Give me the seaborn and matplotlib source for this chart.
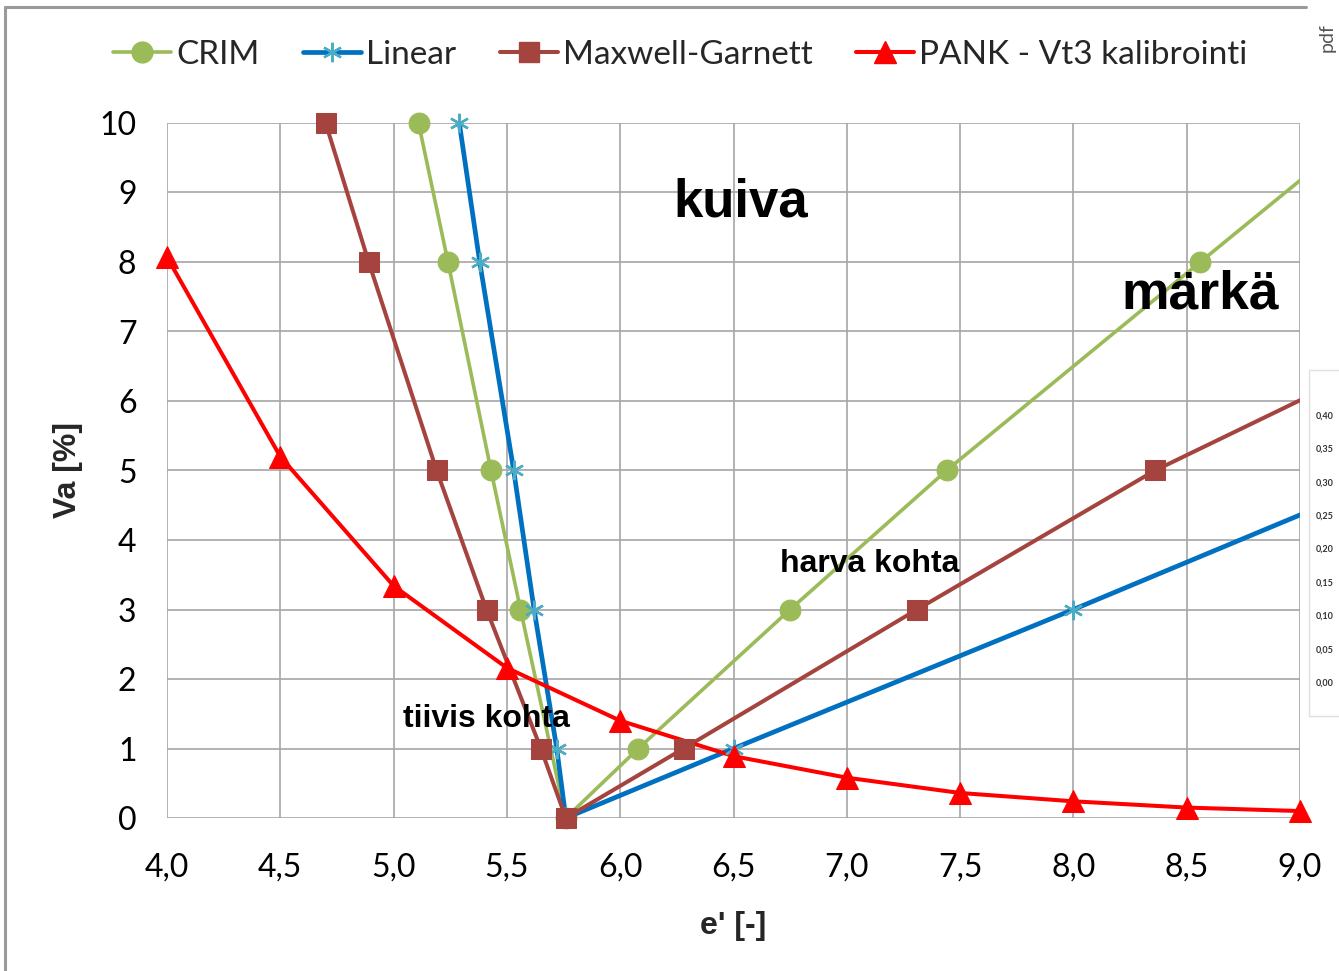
import matplotlib
matplotlib.use("Agg")
import matplotlib.pyplot as plt
import seaborn as sns
import pandas as pd
from matplotlib.lines import Line2D
from matplotlib.patches import Rectangle

# ---- data ----
crim_x = [5.11, 5.24, 5.43, 5.56, 5.76, 6.08, 6.75, 7.44, 8.56, 9.31]
crim_y = [10, 8, 5, 3, 0, 1, 3, 5, 8, 10]

linear_x = [5.29, 5.38, 5.53, 5.62, 5.72, 5.76, 6.50, 8.00, 9.47]
linear_y = [10, 8, 5, 3, 1, 0, 1, 3, 5]

mg_x = [4.70, 4.89, 5.19, 5.41, 5.65, 5.76, 6.28, 7.31, 8.36, 10.26]
mg_y = [10, 8, 5, 3, 1, 0, 1, 3, 5, 8]

pank_x = [4.0, 4.5, 5.0, 5.5, 6.0, 6.5, 7.0, 7.5, 8.0, 8.5, 9.0]
pank_y = [8.07, 5.2, 3.34, 2.16, 1.40, 0.89, 0.58, 0.36, 0.24, 0.15, 0.10]

x_ticks = [4.0, 4.5, 5.0, 5.5, 6.0, 6.5, 7.0, 7.5, 8.0, 8.5, 9.0]
x_ticklabels = ["4,0", "4,5", "5,0", "5,5", "6,0", "6,5", "7,0", "7,5", "8,0", "8,5", "9,0"]
y_ticks = list(range(0, 11))

inset_labels = ["0,40", "0,35", "0,30", "0,25", "0,20", "0,15", "0,10", "0,05", "0,00"]

XMIN, XMAX, YMIN, YMAX = 4.0, 9.0, 0, 10

# ---- styling ----
sns.set_theme(style="white")
plt.rcParams["font.family"] = ["Lato", "DejaVu Sans"]

W, H = 1339, 971
fig = plt.figure(figsize=(W / 100, H / 100), dpi=100)
ax = fig.add_axes([167 / W, 1 - 818 / H, (1300 - 167) / W, (818 - 123) / H])

green = "#9BBB59"
blue = "#0070C0"
teal = "#4BACC6"
brown = "#A5443F"
red = "#FF0000"

series = [
    ("CRIM", crim_x, crim_y, dict(color=green, linewidth=2.6),
     dict(marker="o", markersize=15, markerfacecolor=green, markeredgecolor=green)),
    ("Linear", linear_x, linear_y, dict(color=blue, linewidth=3.4),
     dict(marker=(6, 2, 0), markersize=14, markerfacecolor=teal,
          markeredgecolor=teal, markeredgewidth=1.7)),
    ("Maxwell-Garnett", mg_x, mg_y, dict(color=brown, linewidth=2.9),
     dict(marker="s", markersize=14.5, markerfacecolor=brown, markeredgecolor=brown)),
    ("PANK - Vt3 kalibrointi", pank_x, pank_y, dict(color=red, linewidth=2.9),
     dict(marker="^", markersize=16.5, markerfacecolor=red, markeredgecolor=red)),
]

for name, xs, ys, lst, mst in series:
    df = pd.DataFrame({"x": xs, "y": ys})
    sns.lineplot(data=df, x="x", y="y", sort=False, estimator=None, ax=ax,
                 legend=False, **lst)
    inside = df[(df.x >= XMIN) & (df.x <= XMAX) & (df.y >= YMIN) & (df.y <= YMAX)]
    sns.lineplot(data=inside, x="x", y="y", sort=False, estimator=None, ax=ax,
                 legend=False, linestyle="none", clip_on=False, zorder=4,
                 color=lst["color"], **mst)

ax.set_xlim(XMIN, XMAX)
ax.set_ylim(YMIN, YMAX)
ax.set_xticks(x_ticks)
ax.set_xticklabels(x_ticklabels)
ax.set_yticks(y_ticks)

ax.grid(True, color="#A6A6A6", linewidth=1.2)
ax.set_axisbelow(True)
for s in ax.spines.values():
    s.set_visible(False)
ax.tick_params(axis="both", which="both", length=14, width=1.2, color="#A6A6A6",
               labelsize=23, labelcolor="black", direction="out")
ax.tick_params(axis="y", pad=8)
ax.tick_params(axis="x", pad=11)

ax.set_xlabel("e' [-]", fontsize=23, fontweight="bold", family="Liberation Sans",
              labelpad=20)
ax.set_ylabel("Va [%]", fontsize=23, fontweight="bold", family="Liberation Sans",
              labelpad=12)

handles = []
for name, xs, ys, lst, mst in series:
    handles.append(Line2D([], [], label=name, **lst, **mst))
fig.legend(handles=handles, loc="center", bbox_to_anchor=(0.508, 1 - 55 / H),
           ncol=4, frameon=False, fontsize=24, handlelength=1.75,
           handletextpad=0.15, columnspacing=1.3)

# annotations
txt = dict(fontweight="bold", family="Liberation Sans", color="black",
           ha="center", va="center")
ax.text(6.53, 8.86, "kuiva", fontsize=38, **txt)
ax.text(7.10, 3.65, "harva kohta", fontsize=23, **txt)
ax.text(8.56, 7.53, "märkä", fontsize=38.5, **txt)
ax.text(5.41, 1.42, "tiivis kohta", fontsize=23, **txt)

# page frame visible around the chart in the screenshot
fig.add_artist(Line2D([5 / W, 5 / W], [0, 1 - 7 / H], color="#9A9A9A", linewidth=2.2,
                      transform=fig.transFigure))
fig.add_artist(Line2D([5 / W, 1306 / W], [1 - 7 / H, 1 - 7 / H], color="#9A9A9A",
                      linewidth=2.2, transform=fig.transFigure))
fig.text(1327 / W, 1 - 38 / H, "pdf", rotation=90, fontsize=14, color="#555555",
         ha="center", va="center")
fig.add_artist(Rectangle((1309 / W, 1 - 716 / H), 40 / W, (716 - 370) / H,
                         transform=fig.transFigure, facecolor="white",
                         edgecolor="#E0E0E0", linewidth=1.0))
for i, lab in enumerate(inset_labels):
    fig.text(1316 / W, 1 - (416 + i * 33.4) / H, lab, fontsize=6.5, color="#333333",
             ha="left", va="center", fontweight="bold")

fig.savefig("out.png", dpi=100)
